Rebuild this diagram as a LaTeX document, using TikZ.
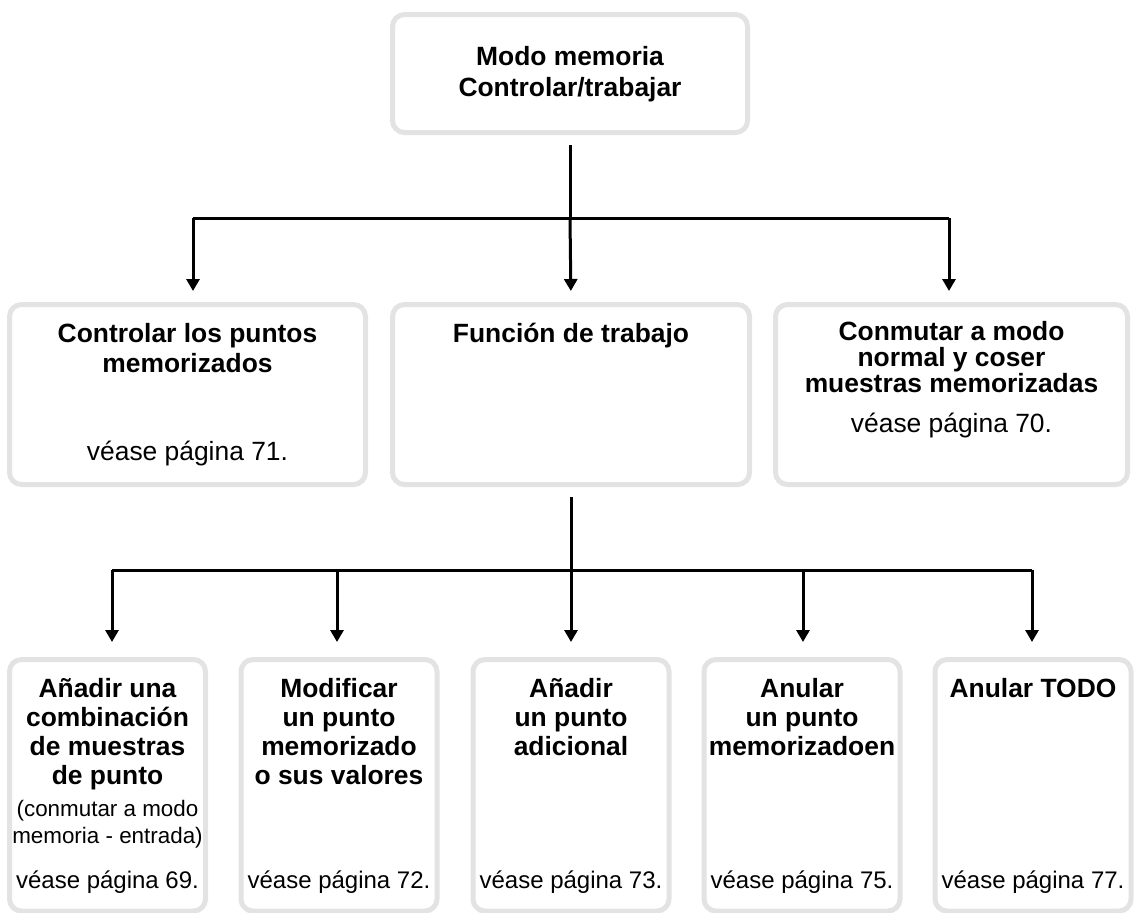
\documentclass[tikz,border=0pt]{standalone}
\usepackage{fontspec}
\setmainfont{Liberation Sans}
\usetikzlibrary{arrows.meta}
\definecolor{marco}{gray}{0.89}
\tikzset{
  caja/.style={draw=marco,line width=2.5pt,rounded corners=6pt,fill=white,inner sep=0pt},
  tit/.style={font=\fontsize{13.2}{14.5}\selectfont\bfseries,align=center,anchor=base,inner sep=0pt},
  ref/.style={font=\fontsize{13.2}{15}\selectfont,anchor=base,inner sep=0pt},
  refp/.style={font=\fontsize{12}{14}\selectfont,anchor=base,inner sep=0pt},
  nota/.style={font=\fontsize{11.2}{13.2}\selectfont,align=center,anchor=base,inner sep=0pt},
  linea/.style={line width=1.5pt},
  flecha/.style={line width=1.5pt,-{Triangle[length=6pt,width=6.5pt]},shorten >=5.5pt},
}
\begin{document}
\begin{tikzpicture}[x=0.5pt,y=-0.5pt]
  \useasboundingbox (0,0) rectangle (1136,912);
  % cajas
  \node[caja,minimum width=177.5pt,minimum height=59pt] (memo) at (570,73.5) {};
  \node[caja,minimum width=178pt,minimum height=90pt] (controlar) at (187.5,394.5) {};
  \node[caja,minimum width=178.5pt,minimum height=90pt] (funcion) at (571,394.5) {};
  \node[caja,minimum width=176pt,minimum height=90pt] (conmutar) at (951.5,394.5) {};
  \node[caja,minimum width=98pt,minimum height=125.75pt] (anadir) at (107.5,785.25) {};
  \node[caja,minimum width=98pt,minimum height=125.75pt] (modificar) at (339,785.25) {};
  \node[caja,minimum width=98pt,minimum height=125.75pt] (adicional) at (571,785.25) {};
  \node[caja,minimum width=98pt,minimum height=125.75pt] (anular) at (802,785.25) {};
  \node[caja,minimum width=98pt,minimum height=125.75pt] (todo) at (1033,785.25) {};
  % textos (base = ultima linea)
  \node[tit] (tmemo) at (570,96) {Modo memoria\\[1pt]Controlar/trabajar};
  \node[tit] (tcontrolar) at (187.5,372) {Controlar los puntos\\[0.5pt]memorizados};
  \node[ref] (rcontrolar) at (187.5,460) {véase página 71.};
  \node[tit] (tfuncion) at (571,342) {Función de trabajo};
  \node[tit] (tconmutar) at (951.5,392) {Conmutar a modo\\[-1.5pt]normal y coser\\[-1.5pt]muestras memorizadas};
  \node[ref] (rconmutar) at (951.5,432) {véase página 70.};
  \node[tit] (tanadir) at (107.5,784) {Añadir una\\combinación\\de muestras\\de punto};
  \node[nota] (nanadir) at (107.5,843) {(conmutar a modo\\memoria - entrada)};
  \node[refp] (ranadir) at (107.5,888) {véase página 69.};
  \node[tit] (tmodificar) at (339,784) {Modificar\\un punto\\memorizado\\o sus valores};
  \node[refp] (rmodificar) at (339,888) {véase página 72.};
  \node[tit] (tadicional) at (571,755) {Añadir\\un punto\\adicional};
  \node[refp] (radicional) at (571,888) {véase página 73.};
  \node[tit] (tanular) at (802,755) {Anular\\un punto\\memorizadoen};
  \node[refp] (ranular) at (802,888) {véase página 75.};
  \node[tit] (ttodo) at (1033,697) {Anular TODO};
  \node[refp] (rtodo) at (1033,888) {véase página 77.};
  % conectores
  \coordinate (busI) at (193,218);
  \coordinate (busD) at (949,218);
  \coordinate (bajoI) at (112,570);
  \coordinate (bajoD) at (1032,570);
  \draw[linea,shorten <=5pt] (memo.south) -- (memo.south |- busI);
  \draw[linea] (busI) -- (busD);
  \draw[flecha] (busI) -- (busI |- controlar.north);
  \draw[flecha] (memo.south |- busI) -- (funcion.north);
  \draw[flecha] (busD) -- (busD |- conmutar.north);
  \draw[linea,shorten <=5pt] (funcion.south) -- (funcion.south |- bajoI);
  \draw[linea] (bajoI) -- (bajoD);
  \draw[flecha,shorten >=7.5pt] (bajoI) -- (bajoI |- anadir.north);
  \draw[flecha,shorten >=7.5pt] (337,570) -- (337,570 |- modificar.north);
  \draw[flecha,shorten >=7.5pt] (funcion.south |- bajoI) -- (adicional.north);
  \draw[flecha,shorten >=7.5pt] (803,570) -- (803,570 |- anular.north);
  \draw[flecha,shorten >=7.5pt] (bajoD) -- (bajoD |- todo.north);
\end{tikzpicture}
\end{document}
